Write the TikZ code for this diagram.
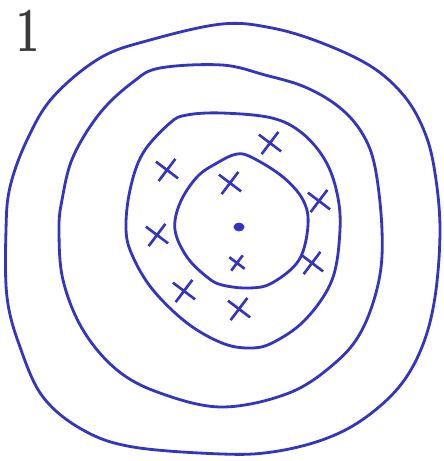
\documentclass[tikz,border=0pt]{standalone}
\usetikzlibrary{shapes.misc}
\definecolor{inkblue}{HTML}{3434C4}
\definecolor{pencil}{HTML}{3A3A3A}

\begin{document}
\begin{tikzpicture}[
  x=0.02cm, y=-0.02cm,
  line width=1.6pt,
  ring/.style={draw=inkblue, line join=round},
  xmark/.style={draw=inkblue, cross out, inner sep=0pt, minimum size=0.34cm, line width=1.5pt, rotate=8},
  smallxmark/.style={xmark, minimum size=0.22cm}
]
  \useasboundingbox (0,0) rectangle (444,461);

  % the number in the corner
  \node[text=pencil, inner sep=0pt, xscale=0.65, font=\fontsize{36}{36}\selectfont\bfseries] (num) at (28,31) {1};

  % rings, outside in
  \draw[ring] plot[smooth cycle, tension=0.6] coordinates {
    (222,24) (272,28) (322,43) (372,67) (405,97) (425,133) (435,173) (440,230)
    (435,297) (422,347) (399,387) (362,420) (322,440) (272,452) (222,454)
    (133,447) (83,430) (43,397) (20,347) (7,297) (6,230) (10,187) (27,140)
    (53,97) (100,58) (150,40)};
  \draw[ring] plot[smooth cycle, tension=0.6] coordinates {
    (222,65) (265,75) (305,87) (339,107) (362,133) (375,167) (382,230)
    (379,280) (362,330) (335,363) (289,393) (222,407) (160,393) (117,370)
    (83,330) (63,280) (59,230) (62,200) (73,157) (100,113) (133,82) (160,68)};
  \draw[ring] plot[smooth cycle, tension=0.6] coordinates {
    (222,113) (272,118) (302,133) (325,160) (337,193) (340,230) (332,280)
    (305,320) (272,343) (249,348) (222,343) (187,323) (153,290) (133,257)
    (126,230) (130,190) (143,153) (170,123) (187,115)};
  \draw[ring] plot[smooth cycle, tension=0.6] coordinates {
    (217,163) (237,154) (253,158) (283,177) (303,200) (308,225) (299,260)
    (272,283) (249,288) (222,285) (207,277) (187,257) (175,230) (180,203)
    (197,177)};

  % centre and crosses
  \node[circle, draw=inkblue, fill=inkblue, inner sep=0pt, minimum size=0.14cm, xscale=1.3, line width=1pt] (centre) at (239,227) {};
  \foreach \px/\py [count=\i] in {167/170, 230/183, 270/143, 319/201, 157/235, 312/263, 184/291, 239/309}
    \node[xmark] (x\i) at (\px,\py) {};
  \node[smallxmark] (x9) at (237,263) {};
\end{tikzpicture}
\end{document}
